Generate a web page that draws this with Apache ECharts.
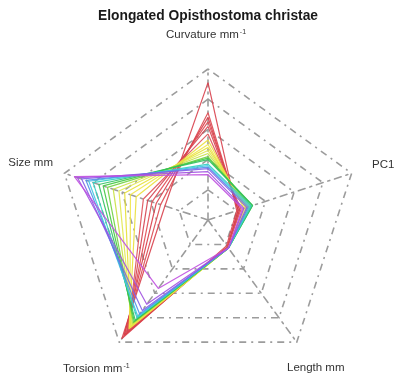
<!DOCTYPE html>
<html>
<head>
<meta charset="utf-8">
<script src="https://cdn.jsdelivr.net/npm/echarts@6/dist/echarts.min.js"></script>
<style>
  html, body { margin: 0; padding: 0; background: #fff; }
  #chart { width: 395px; height: 378px; }
</style>
</head>
<body>
<div id="chart"></div>
<script>
// Radar axes, listed counter-clockwise from the top
const axes = ['Curvature mm-1', 'Size mm', 'Torsion mm-1', 'Length mm', 'PC1'];

// One value per growth stage (scaled 0–100 on each axis)
const curvature = [91, 71, 68, 65, 62, 57, 53, 50, 48, 46, 44, 42, 41, 40, 37, 36, 35, 34, 32, 30];
const size      = [30, 33, 36, 39, 42, 45, 50, 54, 58, 62, 66, 70, 73, 76, 80, 83, 85, 88, 91, 93];
const torsion   = [97, 95, 94, 92, 91, 90, 89, 88, 87, 86, 85, 84, 83, 82, 80, 79, 77, 74, 69, 56];
const lengthMm  = [21, 22, 22, 22, 22, 22, 23, 23, 23, 23, 23, 23, 23, 23, 23, 23, 23, 23, 23, 23];
const pc1       = [20, 21, 21, 22, 22, 23, 25, 26, 27, 28, 29, 30, 31, 31, 30, 29, 28, 27, 25, 24];

// Stage colours, red through violet
const palette = [
  '#d8404c', '#dc4850', '#d83c48', '#e04a52', '#d44450', '#de5058',
  '#eadf3c', '#efe64a', '#e6e034', '#e2e850', '#c8e040',
  '#70d040', '#40c840', '#30c060',
  '#30d0c0', '#40c8e0',
  '#5090e8',
  '#8060e8', '#a050e0', '#c050e0'
];

const FONT = '"Liberation Sans", Arial, sans-serif';
const gridLine = { color: '#9c9c9c', width: 1.6, type: [7, 5, 2, 5] };

// Axis captions: the unit exponent is set as a superscript
function caption(name) {
  return name.endsWith('-1')
    ? '{n|' + name.slice(0, -2) + '}{s|-1}'
    : '{n|' + name + '}';
}
const captionRich = {
  n: { fontSize: 11.5, fill: '#333', fontFamily: FONT },
  s: { fontSize: 7, fill: '#333', fontFamily: FONT, verticalAlign: 'top', padding: [0, 0, 6, 1] }
};
// caption anchor [x, y, align] for each axis, same order as axes
const captionAt = [
  [206, 35, 'center'],
  [53, 163, 'right'],
  [63, 369, 'left'],
  [287, 368, 'left'],
  [372, 165, 'left']
];

const chart = echarts.init(document.getElementById('chart'), null, { renderer: 'canvas' });

const seriesData = curvature.map((c, i) => ({
  value: [c, size[i], torsion[i], lengthMm[i], pc1[i]],
  lineStyle: { color: palette[i], width: 1.2, opacity: 0.9 },
  itemStyle: { color: palette[i] }
}));

const graphics = [{
  type: 'text',
  x: 208, y: 16,
  style: {
    text: 'Elongated Opisthostoma christae',
    font: 'bold 13.8px ' + FONT,
    fill: '#1a1a1a',
    align: 'center',
    verticalAlign: 'middle'
  }
}].concat(axes.map((n, i) => ({
  type: 'text',
  x: captionAt[i][0], y: captionAt[i][1],
  style: {
    text: caption(n),
    rich: captionRich,
    align: captionAt[i][2],
    verticalAlign: 'middle'
  }
})));

chart.setOption({
  animation: false,
  backgroundColor: '#fff',
  graphic: graphics,
  radar: {
    center: [208, 220],
    radius: 151,
    startAngle: 90,
    splitNumber: 5,
    shape: 'polygon',
    indicator: axes.map(n => ({ name: n, min: 0, max: 100 })),
    axisName: { show: false },
    splitLine: { lineStyle: gridLine },
    axisLine: { lineStyle: gridLine },
    splitArea: { show: false }
  },
  series: [{
    type: 'radar',
    symbol: 'none',
    data: seriesData
  }]
});
</script>
</body>
</html>
